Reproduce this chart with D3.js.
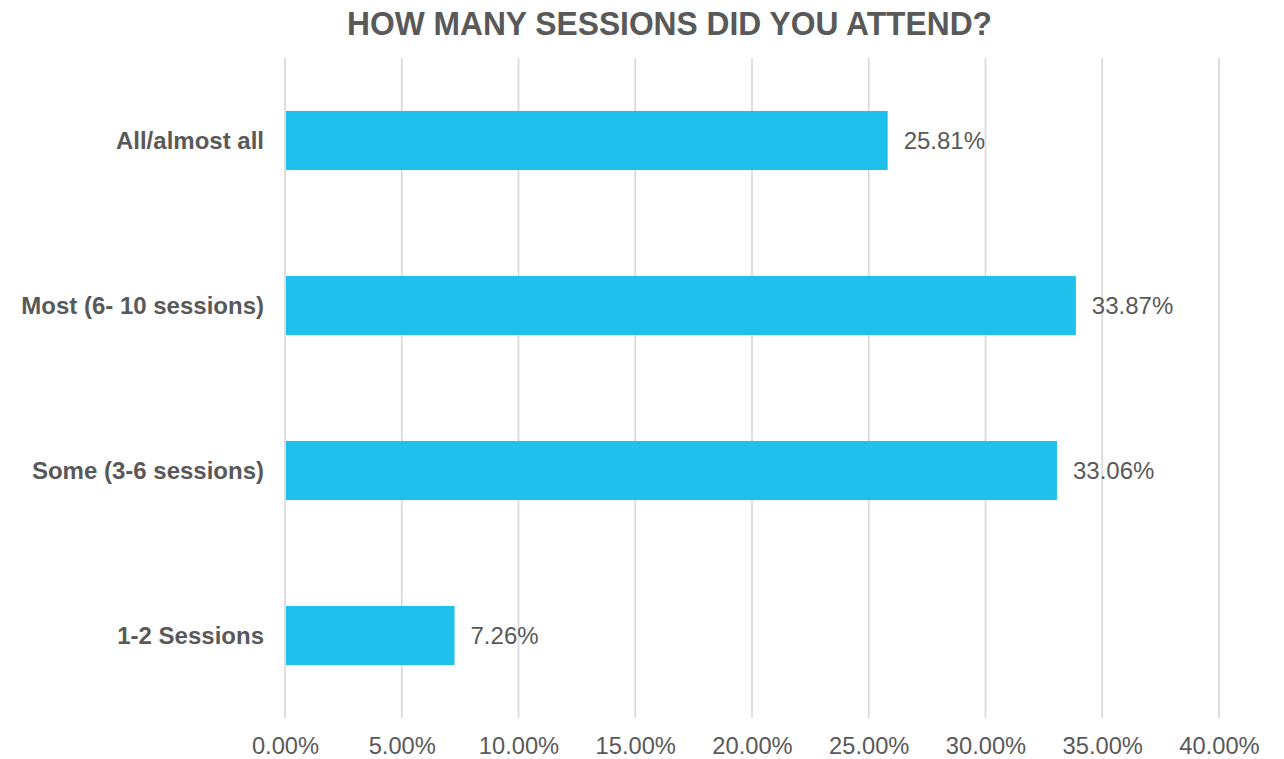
<!DOCTYPE html>
<html>
<head>
<meta charset="utf-8">
<script src="https://cdn.jsdelivr.net/npm/d3@7"></script>
<style>
  html, body { margin: 0; padding: 0; background: #ffffff; }
  svg { display: block; font-family: "Liberation Sans", Arial, sans-serif; }
</style>
</head>
<body>
<svg id="chart" width="1284" height="759"></svg>
<script>
// Survey responses: share of respondents by number of sessions attended
const categories = ["All/almost all", "Most (6- 10 sessions)", "Some (3-6 sessions)", "1-2 Sessions"];
const shares = [25.81, 33.87, 33.06, 7.26];
const tickValues = [0, 5, 10, 15, 20, 25, 30, 35, 40];
const chartTitle = "HOW MANY SESSIONS DID YOU ATTEND?";

const svg = d3.select("#chart");
const margin = { left: 285, right: 65, top: 58, bottom: 41 };
const W = 1284, H = 759;

const x = d3.scaleLinear()
  .domain([0, 40])
  .range([margin.left, W - margin.right]);

const y = d3.scaleBand()
  .domain(categories)
  .range([margin.top, H - margin.bottom])
  .paddingInner(0.642)
  .paddingOuter(0.321);

const textColor = "#595959";

// Title
svg.append("text")
  .attr("x", 669.5)
  .attr("y", 34.5)
  .attr("text-anchor", "middle")
  .attr("font-size", 32.5)
  .attr("font-weight", "bold")
  .attr("fill", textColor)
  .attr("textLength", 645)
  .attr("lengthAdjust", "spacingAndGlyphs")
  .text(chartTitle);

// Vertical gridlines
svg.append("g")
  .selectAll("line")
  .data(tickValues)
  .join("line")
  .attr("x1", d => x(d))
  .attr("x2", d => x(d))
  .attr("y1", margin.top)
  .attr("y2", H - margin.bottom)
  .attr("stroke", "#d9d9d9")
  .attr("stroke-width", 1.7);

// X axis labels
const xAxis = d3.axisBottom(x)
  .tickValues(tickValues)
  .tickSize(0)
  .tickPadding(0)
  .tickFormat(d => d.toFixed(2) + "%");

svg.append("g")
  .attr("transform", `translate(0, ${H - margin.bottom})`)
  .call(xAxis)
  .call(g => g.select(".domain").remove())
  .call(g => g.selectAll("text")
    .attr("y", 36)
    .attr("dy", 0)
    .attr("font-size", 23.7)
    .attr("font-family", "Liberation Sans, Arial, sans-serif")
    .attr("fill", textColor));

// Y axis category labels
const yAxis = d3.axisLeft(y).tickSize(0).tickPadding(21);
svg.append("g")
  .attr("transform", `translate(${margin.left}, 0)`)
  .call(yAxis)
  .call(g => g.select(".domain").remove())
  .call(g => g.selectAll("text")
    .attr("font-size", 24)
    .attr("font-weight", "bold")
    .attr("font-family", "Liberation Sans, Arial, sans-serif")
    .attr("dy", "0.35em")
    .attr("fill", textColor));

// Bars
svg.append("g")
  .selectAll("rect")
  .data(categories)
  .join("rect")
  .attr("x", x(0) + 1)
  .attr("y", d => y(d))
  .attr("width", (d, i) => x(shares[i]) - x(0) - 1)
  .attr("height", y.bandwidth())
  .attr("fill", "#1fc1ec");

// Value labels
svg.append("g")
  .selectAll("text")
  .data(categories)
  .join("text")
  .attr("x", (d, i) => x(shares[i]) + 16)
  .attr("y", d => y(d) + y.bandwidth() / 2)
  .attr("dy", "0.35em")
  .attr("font-size", 24)
  .attr("fill", textColor)
  .text((d, i) => shares[i].toFixed(2) + "%");
</script>
</body>
</html>
